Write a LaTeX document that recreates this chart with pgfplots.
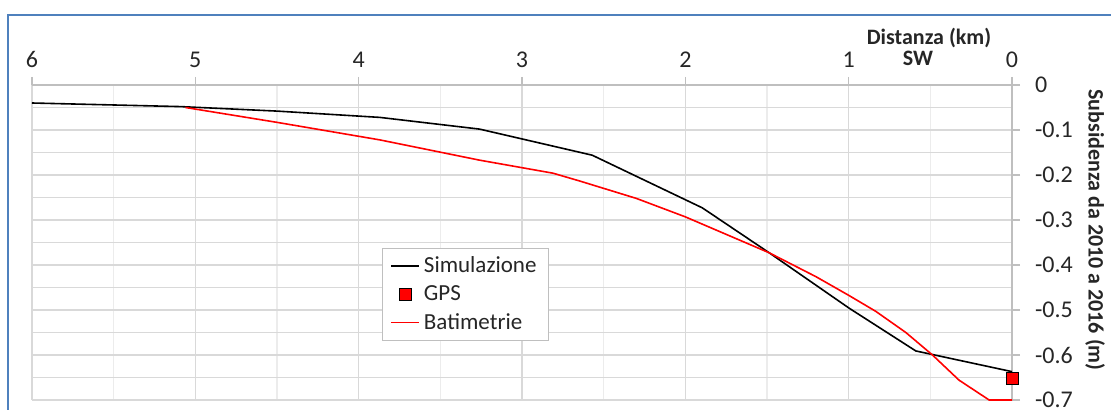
\documentclass[border=0pt]{standalone}
\usepackage{pgfplots}
\pgfplotsset{compat=1.18}
\usepackage{fontspec}
\setmainfont{Carlito}
\definecolor{gridc}{RGB}{217,217,217}
\definecolor{mgridc}{RGB}{236,236,236}
\definecolor{axc}{RGB}{191,191,191}
\definecolor{framec}{RGB}{79,129,189}
\pgfplotsset{
 lineleg/.style={legend image code/.code={\draw[##1] (0pt,0pt) -- (14pt,0pt);}},
 markleg/.style={legend image code/.code={\draw[mark repeat=1,mark phase=1,##1] plot coordinates {(7pt,0pt)};}},
}
\begin{document}
\begin{tikzpicture}
\begin{axis}[
  scale only axis, width=490pt, height=157.5pt,
  x dir=reverse, xmin=0, xmax=6, ymin=-0.7, ymax=0,
  axis x line*=top, axis y line*=right,
  axis line style={axc, line width=0.6pt},
  xtick={0,1,2,3,4,5,6},
  ytick={-0.7,-0.6,-0.5,-0.4,-0.3,-0.2,-0.1,0},
  minor x tick num=1, minor y tick num=1,
  grid=both,
  major grid style={gridc, line width=0.6pt},
  minor x grid style={mgridc, line width=0.6pt},
  minor y grid style={gridc, line width=0.6pt},
  tick style={axc, line width=0.6pt},
  tick align=outside, major tick length=4pt, minor tick length=0pt,
  /pgf/number format/assume math mode=true,
  /pgf/number format/fixed,
  tick label style={font=\fontsize{12}{14}\selectfont, text=black!85},
  xticklabel style={yshift=1pt},
  yticklabel style={anchor=west, xshift=4pt},
  clip=false,
  legend style={at={(axis description cs:0.357,0.483)}, anchor=north west,
    draw=axc, line width=0.5pt, font=\fontsize{11.5}{13.5}\selectfont,
    row sep=1pt, inner xsep=4pt, inner ysep=2pt, text=black!85},
  legend cell align=left,
]
\addplot[black, line width=0.8pt, lineleg] coordinates {
 (6.00,-0.040) (5.09,-0.048) (4.50,-0.058) (3.87,-0.072) (3.26,-0.098)
 (2.57,-0.156) (1.896,-0.273) (1.486,-0.373) (0.997,-0.496) (0.589,-0.591) (0.00,-0.637)
};
\addlegendentry{Simulazione}
\addplot[only marks, mark=square*, mark size=3pt, mark options={fill=red, draw=black, line width=0.5pt}, markleg] coordinates {
 (0.00,-0.652)
};
\addlegendentry{GPS}
\addplot[red, line width=0.8pt, lineleg] coordinates {
 (5.06,-0.050) (4.50,-0.083) (3.87,-0.122) (3.26,-0.167) (2.81,-0.196) (2.65,-0.213)
 (2.30,-0.252) (2.00,-0.293) (1.486,-0.373) (1.20,-0.426) (0.997,-0.468) (0.834,-0.503)
 (0.65,-0.550) (0.487,-0.600) (0.324,-0.656) (0.14,-0.700) (0.00,-0.700)
};
\addlegendentry{Batimetrie}
\coordinate (RT) at (axis cs:0,0);
\coordinate (LB) at (axis cs:6,-0.7);
\end{axis}
\node[font=\bfseries\fontsize{11}{13}\selectfont, text=black!85] at ([xshift=-41.5pt,yshift=23.5pt]RT) {Distanza (km)};
\node[font=\bfseries\fontsize{11}{13}\selectfont, text=black!85] at ([xshift=-47pt,yshift=13.5pt]RT) {SW};
\node[rotate=-90, font=\bfseries\fontsize{11}{13}\selectfont, text=black!85] at ([xshift=41.5pt,yshift=-72.5pt]RT) {Subsidenza da 2010 a 2016 (m)};
\draw[framec, line width=1pt] ([xshift=80pt,yshift=35pt]RT) -| ([xshift=-12pt,yshift=-20pt]LB);
\pgfresetboundingbox
\path[use as bounding box] ([xshift=-16pt,yshift=-5pt]LB) rectangle ([xshift=49.5pt,yshift=42.5pt]RT);
\end{tikzpicture}
\end{document}
